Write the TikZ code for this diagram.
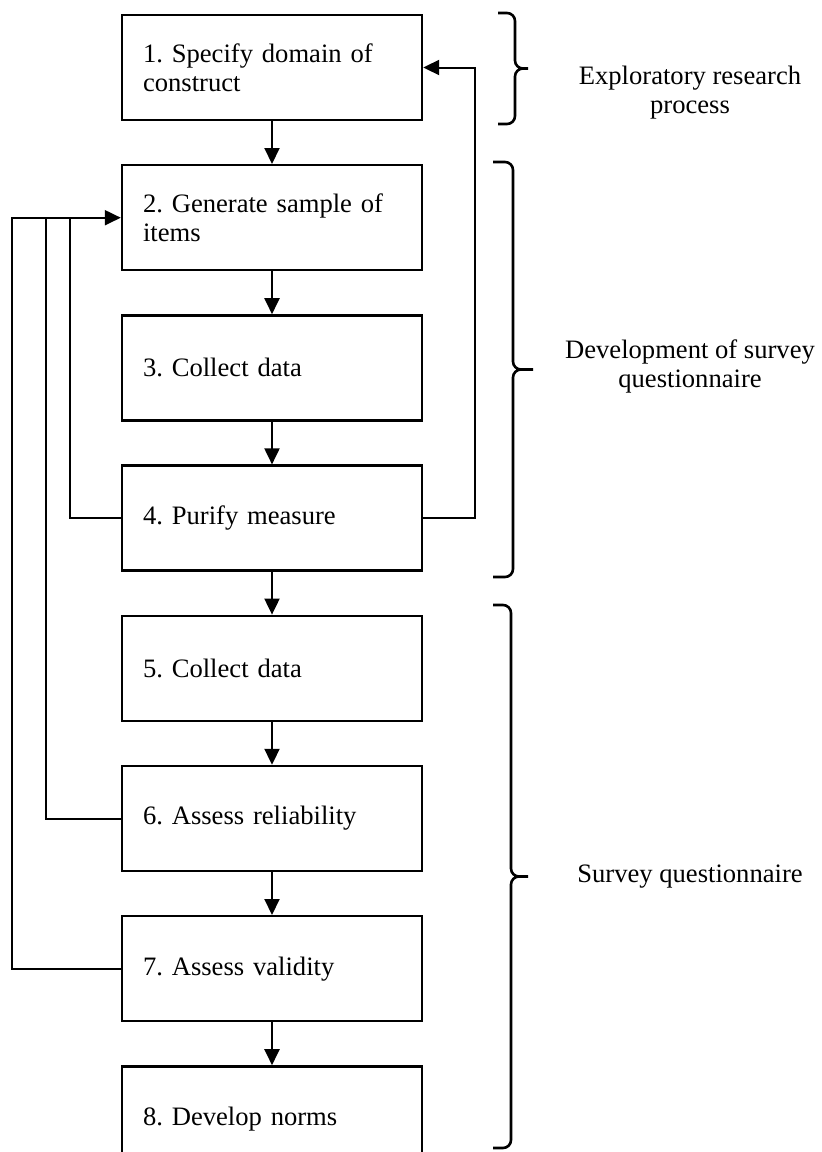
\documentclass[tikz,border=0pt]{standalone}
\usepackage{fontspec}
\setmainfont{Liberation Serif}
\usepackage{tikz}
\usetikzlibrary{arrows.meta,positioning}
\frenchspacing

\begin{document}
\begin{tikzpicture}[
    box/.style={draw=black, line width=1.2pt, minimum width=150pt, minimum height=52.5pt,
                text width=129pt, inner xsep=10.5pt, align=left,
                font=\fontsize{13.3pt}{14.5pt}\selectfont},
    arr/.style={-{Triangle[length=8pt, width=7.5pt]}, line width=1pt},
    fbk/.style={line width=1pt},
    brc/.style={line width=1.3pt, rounded corners=4pt},
    lbl/.style={align=center, font=\fontsize{13.3pt}{14.5pt}\selectfont},
    node distance=21.4pt
]
\useasboundingbox (0,0) rectangle (411pt,-576pt);

\node[box] (dom) at (136pt,-33.75pt) {1. Specify domain of\\construct};
\node[box, below=of dom] (gen) {2. Generate sample of\\items};
\node[box, below=of gen] (col) {3. Collect data};
\node[box, below=of col] (pur) {4. Purify measure};
\node[box, below=of pur] (coll) {5. Collect data};
\node[box, below=of coll] (rel) {6. Assess reliability};
\node[box, below=of rel] (val) {7. Assess validity};
\node[box, below=of val] (nrm) {8. Develop norms};

\draw[arr] (dom.south) -- (gen.north);
\draw[arr] (gen.south) -- (col.north);
\draw[arr] (col.south) -- (pur.north);
\draw[arr] (pur.south) -- (coll.north);
\draw[arr] (coll.south) -- (rel.north);
\draw[arr] (rel.south) -- (val.north);
\draw[arr] (val.south) -- (nrm.north);

\draw[fbk] (pur.west) -| ([xshift=-25.5pt]gen.west);
\draw[fbk] (rel.west) -| ([xshift=-37.5pt]gen.west);
\draw[arr] (val.west) -| ([xshift=-54.5pt]gen.west) -- (gen.west);
\draw[arr] (pur.east) -| ([xshift=26pt]dom.east) -- (dom.east);

\draw[brc] (249pt,-6.5pt) -| (257.5pt,-34.25pt) -- (264pt,-34.25pt)
           (264pt,-34.25pt) -- (257.5pt,-34.25pt) |- (249pt,-62pt);
\draw[brc] (246.5pt,-81pt) -| (256.5pt,-184.75pt) -- (266.5pt,-184.75pt)
           (266.5pt,-184.75pt) -- (256.5pt,-184.75pt) |- (246.5pt,-288.5pt);
\draw[brc] (246.5pt,-302.5pt) -| (255.5pt,-438.25pt) -- (264pt,-438.25pt)
           (264pt,-438.25pt) -- (255.5pt,-438.25pt) |- (246.5pt,-574pt);

\node[lbl] (exp) at (345pt,-46.5pt) {Exploratory research\\process};
\node[lbl] (dev) at (345pt,-183pt) {Development of survey\\questionnaire};
\node[lbl] (srv) at (345pt,-438.5pt) {Survey questionnaire};
\end{tikzpicture}
\end{document}
